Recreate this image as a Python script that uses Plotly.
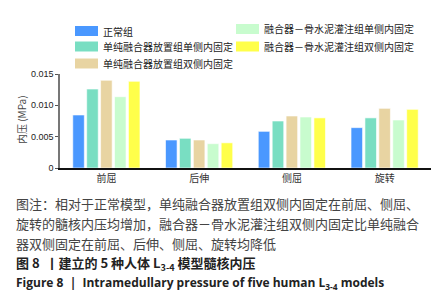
import plotly.graph_objects as go

categories = ["前屈", "后伸", "侧屈", "旋转"]
series_names = [
    "正常组",
    "单纯融合器放置组单侧内固定",
    "单纯融合器放置组双侧内固定",
    "融合器－骨水泥灌注组单侧内固定",
    "融合器－骨水泥灌注组双侧内固定",
]
normal = [0.00846, 0.00447, 0.00585, 0.00644]
cage_uni = [0.0126, 0.00474, 0.0075, 0.0080]
cage_bi = [0.0140, 0.00447, 0.0083, 0.00952]
cement_uni = [0.01138, 0.00388, 0.00814, 0.00766]
cement_bi = [0.01383, 0.00402, 0.0080, 0.00936]
series_values = [normal, cage_uni, cage_bi, cement_uni, cement_bi]
colors = ["#4A98FF", "#79DEC2", "#E8D4A2", "#C8FCCE", "#FFFF4A"]
y_ticks = [0, 0.005, 0.010, 0.015]
y_ticklabels = ["0", "0.005", "0.010", "0.015"]

caption_lines = [
    "图注：相对于正常模型，单纯融合器放置组双侧内固定在前屈、侧屈、",
    "旋转的髓核内压均增加，融合器－骨水泥灌注组双侧内固定比单纯融合",
    "器双侧固定在前屈、后伸、侧屈、旋转均降低",
]
title_cn = "图 8  丨建立的 5 种人体 L<sub>3-4</sub> 模型髓核内压"
title_en = "Figure 8  |  Intramedullary pressure of five human L<sub>3-4</sub> models"

W, H = 441, 292
L, R, T, B = 52, 18, 66, 132
PW, PH = W - L - R, H - T - B


def px(x):
    return (x - L) / PW


def py(y):
    return (H - B - y) / PH


fig = go.Figure()
for name, vals, col in zip(series_names, series_values, colors):
    fig.add_trace(go.Bar(
        x=categories, y=vals, name=name,
        marker=dict(color=col, line=dict(color="rgba(255,255,255,0.6)", width=1)),
        showlegend=False,
    ))

cjk = "Noto Sans CJK SC"
annotations = []
shapes = []
# manual legend
legend_pos = [(67, 23), (67, 38.5), (67, 55.5), (228, 21), (228, 38.5)]
for (lx, ly), name, col in zip(legend_pos, series_names, colors):
    shapes.append(dict(type="rect", xref="paper", yref="paper",
                       x0=px(lx), x1=px(lx + 23), y0=py(ly + 5), y1=py(ly - 5),
                       fillcolor=col, line=dict(width=0)))
    annotations.append(dict(xref="paper", yref="paper", x=px(lx + 26), y=py(ly),
                            text=name, showarrow=False, xanchor="left", yanchor="middle",
                            font=dict(family=cjk, size=10, color="#222")))

annotations.append(dict(xref="paper", yref="paper", x=px(13), y=py(112),
                        text="内压 (MPa)", textangle=-90, showarrow=False,
                        xanchor="center", yanchor="middle",
                        font=dict(family=cjk, size=10, color="#444")))

cap_y = [195, 215, 235.5]
for line, yy in zip(caption_lines, cap_y):
    annotations.append(dict(xref="paper", yref="paper", x=px(6), y=py(yy),
                            text=line, showarrow=False, xanchor="left", yanchor="middle",
                            font=dict(family=cjk, size=13, color="#444")))
annotations.append(dict(xref="paper", yref="paper", x=px(6), y=py(255.5),
                        text="<b>" + title_cn + "</b>", showarrow=False,
                        xanchor="left", yanchor="middle",
                        font=dict(family=cjk, size=13, color="#222")))
annotations.append(dict(xref="paper", yref="paper", x=px(6), y=py(275),
                        text="<b>" + title_en + "</b>", showarrow=False,
                        xanchor="left", yanchor="middle",
                        font=dict(family="Open Sans", size=12, color="#222")))

fig.update_layout(
    width=W, height=H,
    margin=dict(l=L, r=R, t=T, b=B, pad=0),
    paper_bgcolor="white", plot_bgcolor="white",
    barmode="group", bargap=0.25, bargroupgap=0.17,
    shapes=shapes, annotations=annotations,
    xaxis=dict(showline=True, linecolor="#111", linewidth=1.5, ticks="",
               tickfont=dict(family=cjk, size=10, color="#333"), showgrid=False),
    yaxis=dict(range=[0, 0.015], tickvals=y_ticks, ticktext=y_ticklabels,
               showline=True, linecolor="#777", linewidth=1.5, ticks="outside",
               ticklen=3, tickcolor="#555", showgrid=False, zeroline=False,
               tickfont=dict(family="Liberation Sans", size=9, color="#222")),
)

fig.write_html("out.html")
